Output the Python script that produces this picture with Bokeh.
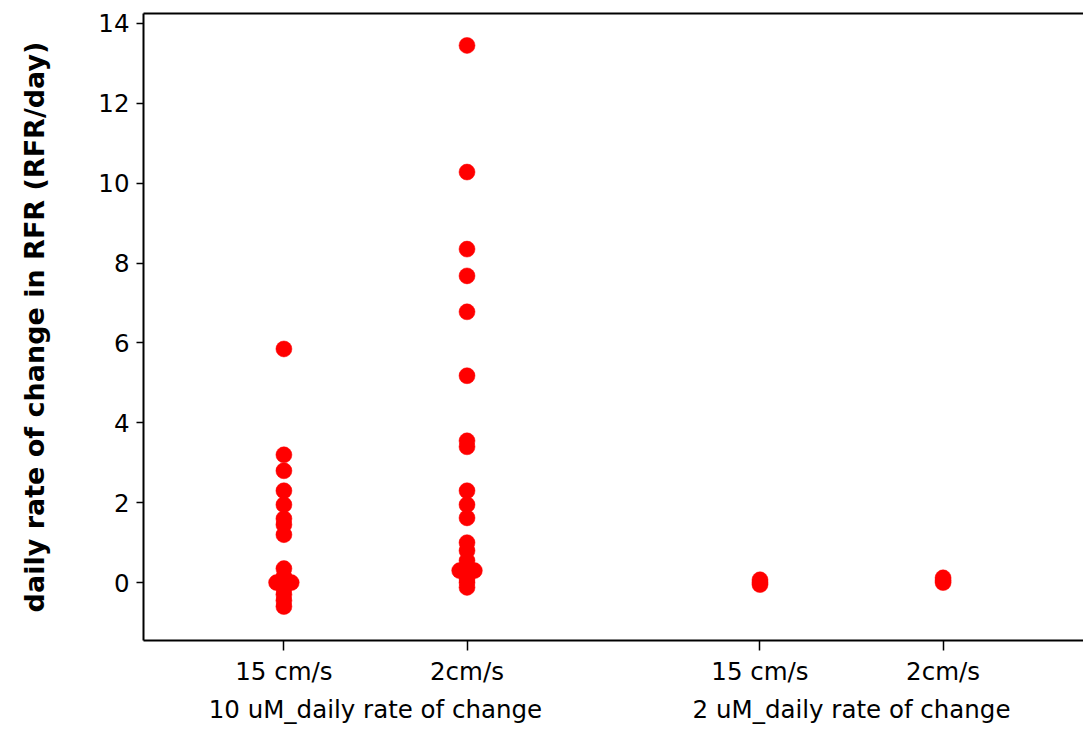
from bokeh.plotting import figure
from bokeh.models import ColumnDataSource, FactorRange, LinearAxis, FixedTicker, Range1d
from bokeh.transform import dodge
from bokeh.embed import file_html
from bokeh.resources import INLINE

groups = ["10 uM_daily rate of change", "2 uM_daily rate of change"]
speeds = ["15 cm/s", "2cm/s"]
y_title = "daily rate of change in RFR (RFR/day)"

# values per (group, speed); 'side' marks tied points drawn beside each other
g1_15_vals = [5.85, 3.2, 2.8, 2.3, 1.95, 1.6, 1.45, 1.2, 0.35, 0.15, 0.0, 0.0, 0.0, -0.15, -0.3, -0.45, -0.6]
g1_15_side = [0, 0, 0, 0, 0, 0, 0, 0, 0, 0, -1, 0, 1, 0, 0, 0, 0]
g1_2_vals = [13.45, 10.28, 8.35, 7.68, 6.78, 5.18, 3.55, 3.4, 2.3, 1.95, 1.62, 1.0, 0.8, 0.55, 0.3, 0.3, 0.3, 0.1, 0.0, -0.12]
g1_2_side = [0, 0, 0, 0, 0, 0, 0, 0, 0, 0, 0, 0, 0, 0, -1, 0, 1, 0, 0, 0]
g2_15_vals = [0.07, 0.0, -0.05]
g2_15_side = [0, 0, 0]
g2_2_vals = [0.12, 0.05, 0.0]
g2_2_side = [0, 0, 0]

y_ticks = [0, 2, 4, 6, 8, 10, 12, 14]

series = [
    ((groups[0], speeds[0]), g1_15_vals, g1_15_side),
    ((groups[0], speeds[1]), g1_2_vals, g1_2_side),
    ((groups[1], speeds[0]), g2_15_vals, g2_15_side),
    ((groups[1], speeds[1]), g2_2_vals, g2_2_side),
]

factors = [(g, s) for g in groups for s in speeds]
xr = FactorRange(*factors, factor_padding=0, group_padding=0.6, range_padding=0.116)

p = figure(width=1083, height=729, x_range=xr, y_range=Range1d(-1.45, 14.25),
           output_backend="svg", toolbar_location=None,
           min_border_left=143, min_border_right=0, min_border_top=13, min_border_bottom=89)
p.outline_line_color = None
p.xgrid.grid_line_color = None
p.ygrid.grid_line_color = None
p.background_fill_color = "white"
p.border_fill_color = "white"

by_side = {-1: ([], []), 0: ([], []), 1: ([], [])}
for fac, vals, sides in series:
    for v, s in zip(vals, sides):
        by_side[s][0].append(fac)
        by_side[s][1].append(v)

for s, (xs, ys) in by_side.items():
    if not xs:
        continue
    src = ColumnDataSource(dict(x=xs, y=ys))
    p.scatter(x=dodge("x", s * 0.04, range=xr), y="y", source=src, size=16,
              fill_color="#ff0000", line_color="#ff0000", line_width=0.5)

FONT = "DejaVu Sans"
# y axis
ya = p.yaxis[0]
ya.ticker = FixedTicker(ticks=y_ticks)
ya.minor_tick_line_color = None
ya.major_tick_in = 0
ya.major_tick_out = 7
ya.major_tick_line_width = 1.5
ya.axis_line_width = 2
ya.major_label_text_font = FONT
ya.major_label_text_font_size = "24.5px"
ya.major_label_text_color = "black"
ya.major_label_standoff = 7
ya.axis_label = y_title
ya.axis_label_text_font = FONT
ya.axis_label_text_font_style = "bold"
ya.axis_label_text_font_size = "27px"
ya.axis_label_text_color = "black"
ya.axis_label_standoff = 45

xa = p.xaxis[0]
xa.major_tick_in = 0
xa.major_tick_out = 10
xa.major_tick_line_width = 1.5
xa.axis_line_width = 2
xa.major_label_text_font = FONT
xa.major_label_text_font_size = "24.5px"
xa.major_label_text_color = "black"
xa.major_label_standoff = 6
xa.group_text_font = FONT
xa.group_text_font_size = "24.5px"
xa.group_text_color = "black"
xa.group_text_font_style = "normal"
xa.separator_line_color = None
xa.major_label_orientation = "horizontal"
xa.group_label_orientation = "horizontal"

top = LinearAxis(major_tick_line_color=None, minor_tick_line_color=None,
                 major_label_text_font_size="0px", axis_line_width=2)
top.ticker = FixedTicker(ticks=[])
p.add_layout(top, "above")

open("out.html", "w").write(file_html(p, INLINE))
